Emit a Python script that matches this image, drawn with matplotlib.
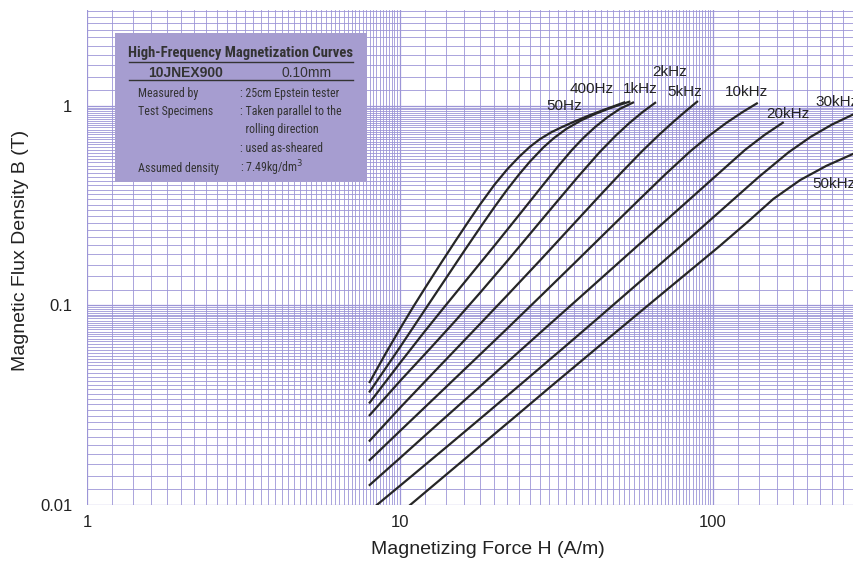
"""High-frequency magnetization curves of 10JNEX900 (0.10 mm), log-log B-H chart."""

import matplotlib

matplotlib.use("Agg")
import matplotlib.pyplot as plt
from matplotlib import font_manager
from matplotlib.patches import Rectangle
from matplotlib.ticker import FixedLocator, NullFormatter

plt.rcParams["font.family"] = ["Liberation Sans", "DejaVu Sans"]

# curves: H (A/m) and B (T)
h_50hz = [8, 9, 10, 11, 12, 13.5, 15, 16.5, 18, 20, 22, 24, 26, 28, 30.5, 33, 36, 40, 44, 48, 52]
b_50hz = [0.0413, 0.0575, 0.0764, 0.0979, 0.1217, 0.1624, 0.2092, 0.2618, 0.3197, 0.4012,
          0.4807, 0.5549, 0.6234, 0.6813, 0.7387, 0.7841, 0.8333, 0.8925, 0.9449, 0.9929, 1.04]

h_400hz = [8, 10, 12, 14, 16, 18, 20, 22, 24, 26, 28.7, 31, 34, 38, 42, 46, 50, 54]
b_400hz = [0.037, 0.0618, 0.0949, 0.1363, 0.1865, 0.2446, 0.3101, 0.3807, 0.4531, 0.5256,
           0.6186, 0.6891, 0.7665, 0.847, 0.9103, 0.9632, 1.0083, 1.048]

h_1khz = [8, 10, 12, 14, 17, 20, 24, 28, 32, 35.4, 38.5, 42, 46, 50.5, 55.5]
b_1khz = [0.0326, 0.0515, 0.0742, 0.1002, 0.1454, 0.1987, 0.2836, 0.3841, 0.4983, 0.6007,
          0.69, 0.7828, 0.8771, 0.9674, 1.038]

h_2khz = [8, 10, 12.5, 15, 18, 22, 26, 31, 37, 43.5, 49, 54, 59.5, 65.3]
b_2khz = [0.0282, 0.0418, 0.061, 0.0835, 0.1155, 0.1668, 0.228, 0.3171, 0.4405, 0.588,
          0.7117, 0.8194, 0.9298, 1.035]

h_5khz = [8, 10, 13, 17, 22, 28, 35, 43, 51, 59.2, 67, 75, 82, 88.9]
b_5khz = [0.021, 0.0307, 0.0473, 0.0734, 0.1123, 0.168, 0.2455, 0.3484, 0.4637, 0.5903,
          0.7123, 0.8364, 0.9436, 1.048]

h_10khz = [8, 10, 13, 17, 22, 28, 36, 46, 58, 70, 84.4, 97, 110, 124, 138]
b_10khz = [0.0168, 0.0235, 0.0348, 0.052, 0.0766, 0.1105, 0.1623, 0.2368, 0.3381, 0.4498,
           0.5901, 0.7071, 0.819, 0.9288, 1.028]

h_20khz = [8, 10, 13, 17, 22, 29, 38, 50, 64, 80, 100, 126.5, 146, 167]
b_20khz = [0.0126, 0.0172, 0.0249, 0.0362, 0.0519, 0.0765, 0.1116, 0.164, 0.2317, 0.3166,
           0.4329, 0.6014, 0.7145, 0.8226]

h_30khz = [8.43, 11, 14.5, 19, 25, 33, 43, 56, 72, 92, 115, 140, 174, 205, 240, 284]
b_30khz = [0.01, 0.01414, 0.0203, 0.029, 0.0418, 0.0606, 0.0866, 0.1241, 0.175, 0.2455,
           0.3348, 0.4401, 0.5839, 0.699, 0.806, 0.914]

h_50khz = [10.77, 14, 18, 23, 30, 39, 50, 64, 82, 105, 130, 156, 190, 230, 284]
b_50khz = [0.01, 0.01414, 0.0197, 0.0272, 0.0387, 0.0546, 0.0756, 0.1043, 0.1439, 0.1984,
           0.2649, 0.3420, 0.425, 0.5001, 0.5798]

curve_labels = ["50Hz", "400Hz", "1kHz", "2kHz", "5kHz", "10kHz", "20kHz", "30kHz", "50kHz"]
# where each label sits (H, B)
label_h = [33.4, 41.1, 58.5, 72.9, 81.4, 127.5, 173.6, 211.8, 207.2]
label_b = [1.0, 1.216, 1.216, 1.479, 1.175, 1.175, 0.912, 1.047, 0.407]

x_ticks = [1, 10, 100]
x_ticklabels = ["1", "10", "100"]
y_ticks = [0.01, 0.1, 1]
y_ticklabels = ["0.01", "0.1", "1"]

info_rows = [
    ("Measured by", ": 25cm Epstein tester"),
    ("Test Specimens", ": Taken parallel to the"),
    ("", "  rolling direction"),
    ("", ": used as-sheared"),
    ("Assumed density", ": 7.49kg/dm$^3$"),
]

GRID = "#9c95d7"
BOX = "#a69dd0"
INK = "#333333"

curves = [
    (h_50hz, b_50hz), (h_400hz, b_400hz), (h_1khz, b_1khz), (h_2khz, b_2khz),
    (h_5khz, b_5khz), (h_10khz, b_10khz), (h_20khz, b_20khz), (h_30khz, b_30khz),
    (h_50khz, b_50khz),
]


def narrow_family():
    """Return a condensed sans family if one is installed, else None."""
    fonts = font_manager.fontManager.ttflist
    names = {f.name for f in fonts}
    for name in ("Liberation Sans Narrow", "Roboto Condensed", "Open Sans Condensed",
                 "Noto Sans Condensed"):
        if name in names:
            return name
    for f in fonts:
        if f.stretch == "condensed" and f.name in ("Liberation Sans", "Roboto", "Noto Sans"):
            return f.name
    return None


fig = plt.figure(figsize=(8.54, 5.65), dpi=100)
ax = fig.add_axes([87 / 854, 1 - 505 / 565, 767 / 854, 495 / 565])
ax.set_xscale("log")
ax.set_yscale("log")
ax.set_xlim(1, 282)
ax.set_ylim(0.01, 3.02)

# log paper: lines every 0.2 within each decade
minor = []
for dec in [0.001, 0.01, 0.1, 1, 10, 100]:
    for k in range(6, 50):
        minor.append(dec * k * 0.2)
ax.xaxis.set_minor_locator(FixedLocator(minor))
ax.yaxis.set_minor_locator(FixedLocator(minor))
ax.xaxis.set_minor_formatter(NullFormatter())
ax.yaxis.set_minor_formatter(NullFormatter())
ax.set_xticks(x_ticks, labels=x_ticklabels)
ax.set_yticks(y_ticks, labels=y_ticklabels)
ax.tick_params(which="both", length=0, labelsize=12, colors="#222222")
ax.tick_params(axis="x", pad=7)
ax.tick_params(axis="y", pad=10.5)
ax.grid(True, which="major", color=GRID, lw=0.9)
ax.grid(True, which="minor", color=GRID, lw=0.6)
ax.set_axisbelow(True)
for s in ax.spines.values():
    s.set_visible(False)

for (h, b) in curves:
    ax.plot(h, b, color="#262626", lw=1.6, zorder=3, solid_joinstyle="round")

for name, lh, lb in zip(curve_labels, label_h, label_b):
    ha = "left" if name in ("30kHz", "50kHz") else "center"
    ax.text(lh, lb, name, ha=ha, va="center", fontsize=11, color="#222222",
            clip_on=False, zorder=4)

ax.set_xlabel("Magnetizing Force H (A/m)", fontsize=14, color="#222222")
ax.xaxis.set_label_coords(0.523, -0.072)
ax.set_ylabel("Magnetic Flux Density B (T)", fontsize=14, color="#222222")
ax.yaxis.set_label_coords(-0.075, 0.515)

# spec box over the grid
ax.add_patch(Rectangle((0.0365, 0.6531), 0.3282, 0.2998, transform=ax.transAxes,
                       facecolor=BOX, edgecolor="none", zorder=5))
cond = narrow_family()
box_family = [cond, "Liberation Sans"] if cond else ["Liberation Sans"]
renderer = fig.canvas.get_renderer()


def fit_width(txt, width_px):
    w = txt.get_window_extent(renderer).width
    txt.set_fontsize(txt.get_fontsize() * width_px / w)
    return txt.get_fontsize()


title = ax.text(0.2001, 0.9131, "High-Frequency Magnetization Curves", transform=ax.transAxes,
                ha="center", va="center", fontsize=11.5, fontweight="bold", color=INK,
                family=box_family, zorder=6)
fit_width(title, 225)
ax.plot([0.0548, 0.3468], [0.8956, 0.8956], transform=ax.transAxes, color=INK, lw=1.0, zorder=6)
ax.text(0.1284, 0.8737, "10JNEX900", transform=ax.transAxes, ha="center", va="center",
        fontsize=10, fontweight="bold", color=INK, zorder=6)
ax.text(0.2868, 0.8737, "0.10mm", transform=ax.transAxes, ha="center", va="center",
        fontsize=10, color=INK, zorder=6)
ax.plot([0.0548, 0.3468], [0.8586, 0.8586], transform=ax.transAxes, color=INK, lw=1.0, zorder=6)

probe = ax.text(0, 0, ": 25cm Epstein tester", fontsize=8.5, family=box_family)
row_size = fit_width(probe, 99)
probe.remove()
row_y = [0.8323, 0.7945, 0.7576, 0.7206, 0.6802]
for (left, right), ry in zip(info_rows, row_y):
    if left:
        ax.text(0.0665, ry, left, transform=ax.transAxes, ha="left", va="center",
                fontsize=row_size, color=INK, family=box_family, zorder=6)
    ax.text(0.1995, ry, right, transform=ax.transAxes, ha="left", va="center",
            fontsize=row_size, color=INK, family=box_family, zorder=6)

fig.savefig("out.png", dpi=100)
